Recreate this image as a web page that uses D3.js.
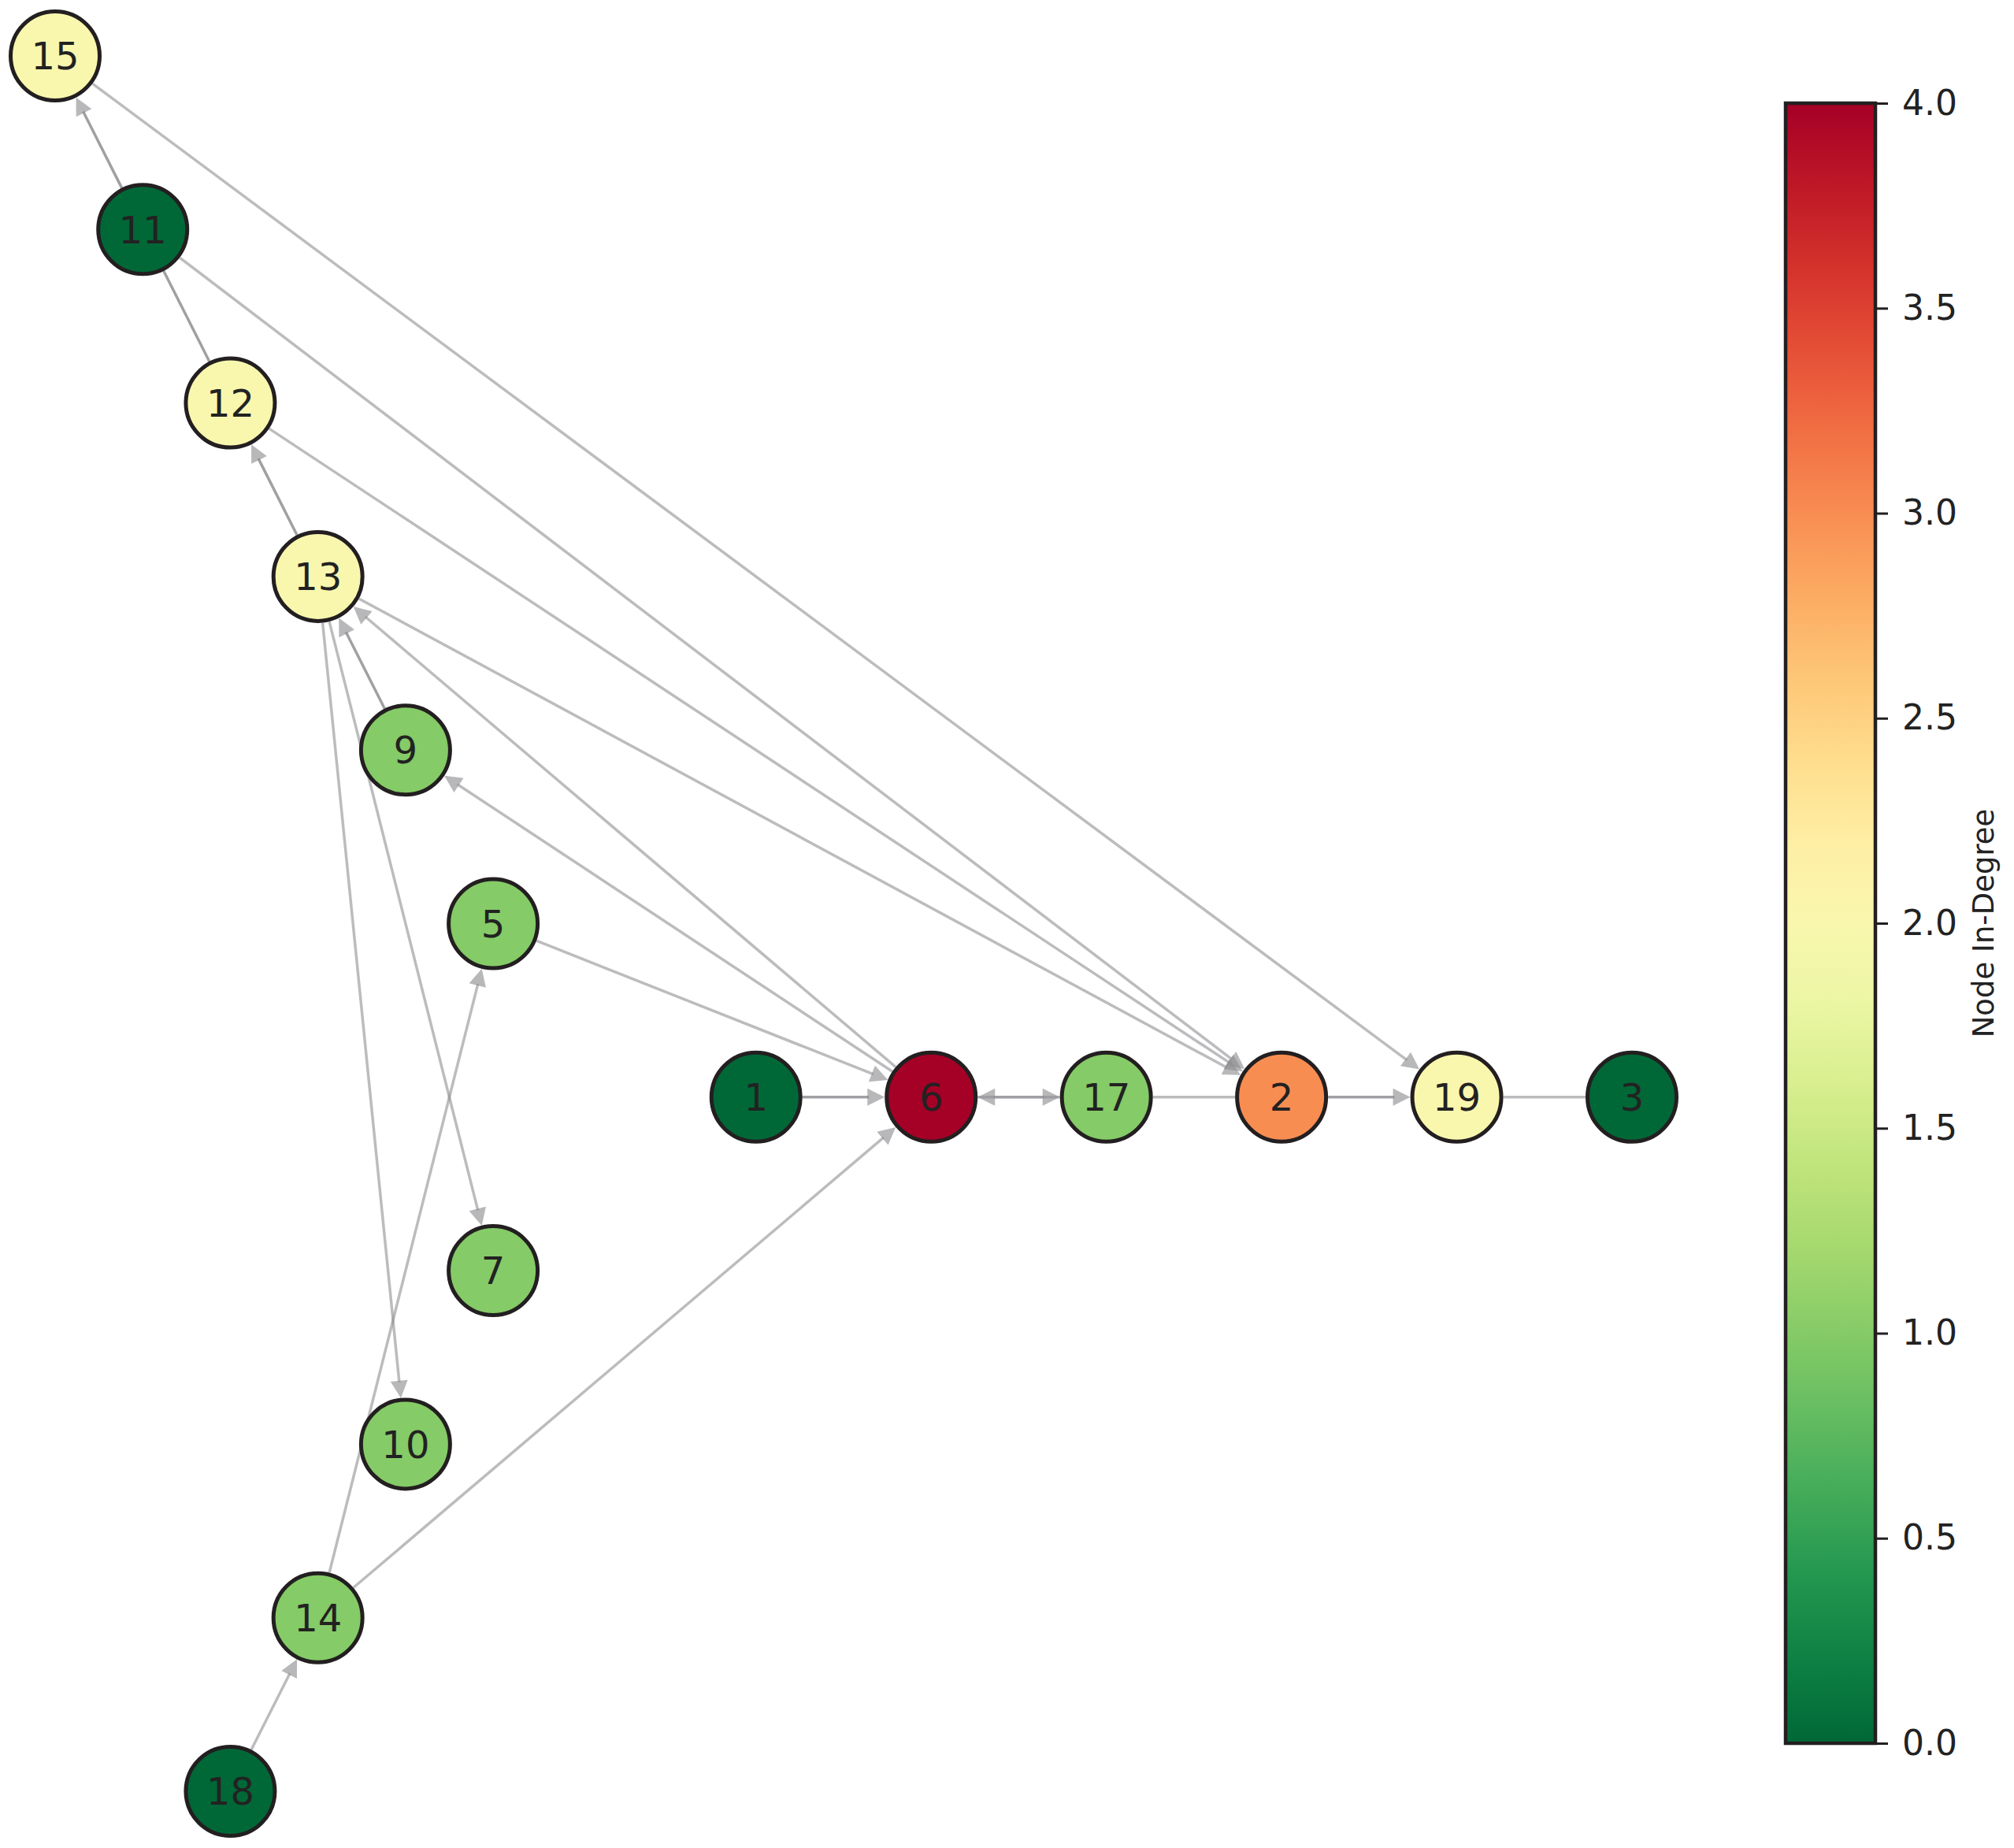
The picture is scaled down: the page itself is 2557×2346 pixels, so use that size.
<!DOCTYPE html>
<html>
<head>
<meta charset="utf-8">
<script src="https://cdn.jsdelivr.net/npm/d3@7"></script>
<style>
  body { margin: 0; background: #fff; }
  text { font-family: "DejaVu Sans", sans-serif; fill: #222; }
</style>
</head>
<body>
<div id="chart"></div>
<script>
'use strict';

// node ids, layout position (grid units) and in-degree
var nodeIds   = [15, 11, 12, 13, 9, 5, 1, 6, 17, 2, 19, 3, 7, 10, 14, 18];
var nodeGridX = [0, 0.5, 1, 1.5, 2, 2.5, 4, 5, 6, 7, 8, 9, 2.5, 2, 1.5, 1];
var nodeGridY = [0, 1, 2, 3, 4, 5, 6, 6, 6, 6, 6, 6, 7, 8, 9, 10];
var inDegree  = [2, 0, 2, 2, 1, 1, 0, 4, 1, 3, 2, 0, 1, 1, 1, 0];

// [source, target, weight, has arrow]
var edges = [
  [11, 15, 2, true],
  [15, 19, 1, true],
  [11, 12, 2, false],
  [11, 2, 1, true],
  [13, 12, 2, true],
  [12, 2, 1, true],
  [13, 2, 1, true],
  [9, 13, 2, true],
  [6, 13, 1, true],
  [6, 9, 1, true],
  [13, 7, 1, true],
  [13, 10, 1, true],
  [5, 6, 1, true],
  [1, 6, 2, true],
  [14, 6, 1, true],
  [14, 5, 1, true],
  [18, 14, 1, true],
  [6, 17, 1, true],
  [17, 6, 1, true],
  [17, 2, 1, false],
  [2, 19, 2, true],
  [19, 3, 1, false]
];

var cbTicks = [0, 0.5, 1, 1.5, 2, 2.5, 3, 3.5, 4];
var cbLabel = "Node In-Degree";

var W = 2557, H = 2346;
var R = 56.5, ROUT = 59, ARROW_L = 22, ARROW_W = 11;

var svg = d3.select("#chart").append("svg")
  .attr("width", W).attr("height", H);

var x = d3.scaleLinear().domain([0, 9]).range([70, 2072]);
var y = d3.scaleLinear().domain([0, 10]).range([71, 2274]);
var color = function(v) { return d3.interpolateRdYlGn(1 - v / 4); };

var nodes = nodeIds.map(function(id, i) {
  return { id: id, gx: nodeGridX[i], gy: nodeGridY[i], deg: inDegree[i] };
});
var byId = {};
nodes.forEach(function(n) { byId[n.id] = n; });

// EDGES
var alpha = function(w) { return 1 - Math.pow(1 - 0.58, w); };

var eg = svg.append("g");
edges.forEach(function(e) {
  var s = byId[e[0]], t = byId[e[1]];
  var x1 = x(s.gx), y1 = y(s.gy), x2 = x(t.gx), y2 = y(t.gy);
  var dx = x2 - x1, dy = y2 - y1, len = Math.sqrt(dx * dx + dy * dy);
  var ux = dx / len, uy = dy / len;
  var sx = x1 + ux * ROUT, sy = y1 + uy * ROUT;
  var tipx = x2 - ux * ROUT, tipy = y2 - uy * ROUT;
  var endOff = e[3] ? ARROW_L - 2 : 0;
  eg.append("line")
    .attr("x1", sx).attr("y1", sy)
    .attr("x2", tipx - ux * endOff).attr("y2", tipy - uy * endOff)
    .attr("stroke", "#8c8c90")
    .attr("stroke-opacity", alpha(e[2]))
    .attr("stroke-width", 3.5);
  if (e[3]) {
    var bx = tipx - ux * ARROW_L, by = tipy - uy * ARROW_L;
    var pts = [
      [tipx, tipy],
      [bx - uy * ARROW_W, by + ux * ARROW_W],
      [bx + uy * ARROW_W, by - ux * ARROW_W]
    ];
    eg.append("polygon")
      .attr("points", pts.map(function(p) { return p.join(","); }).join(" "))
      .attr("fill", "#8c8c90")
      .attr("fill-opacity", 0.62);
  }
});

// NODES
var ng = svg.append("g").selectAll("g")
  .data(nodes).enter().append("g")
  .attr("transform", function(d) { return "translate(" + x(d.gx) + "," + y(d.gy) + ")"; });

ng.append("circle")
  .attr("r", R)
  .attr("fill", function(d) { return color(d.deg); })
  .attr("stroke", "#231f20")
  .attr("stroke-width", 5);

ng.append("text")
  .attr("text-anchor", "middle")
  .attr("dy", "0.36em")
  .attr("font-size", 48)
  .text(function(d) { return d.id; });

// COLORBAR
var cbX = 2267, cbW = 114, cbTop = 131, cbBot = 2213;
var cy = d3.scaleLinear().domain([0, 4]).range([cbBot, cbTop]);

var grad = svg.append("defs").append("linearGradient")
  .attr("id", "cbgrad").attr("x1", 0).attr("y1", 1).attr("x2", 0).attr("y2", 0);
d3.range(0, 1.0001, 0.05).forEach(function(t) {
  grad.append("stop").attr("offset", t).attr("stop-color", color(t * 4));
});

svg.append("rect")
  .attr("x", cbX).attr("y", cbTop)
  .attr("width", cbW).attr("height", cbBot - cbTop)
  .attr("fill", "url(#cbgrad)")
  .attr("stroke", "#231f20")
  .attr("stroke-width", 4.5);

var axis = d3.axisRight(cy).tickValues(cbTicks)
  .tickFormat(d3.format(".1f")).tickSize(16).tickPadding(18);

var ax = svg.append("g")
  .attr("transform", "translate(" + (cbX + cbW) + ",0)")
  .call(axis);
ax.select(".domain").remove();
ax.selectAll(".tick line").attr("stroke", "#231f20").attr("stroke-width", 3);
ax.selectAll(".tick text")
  .attr("font-size", 44)
  .attr("font-family", "DejaVu Sans, sans-serif")
  .attr("fill", "#222");

svg.append("text")
  .attr("transform", "translate(2531," + ((cbTop + cbBot) / 2) + ") rotate(-90)")
  .attr("text-anchor", "middle")
  .attr("font-size", 37)
  .text(cbLabel);
</script>
</body>
</html>
